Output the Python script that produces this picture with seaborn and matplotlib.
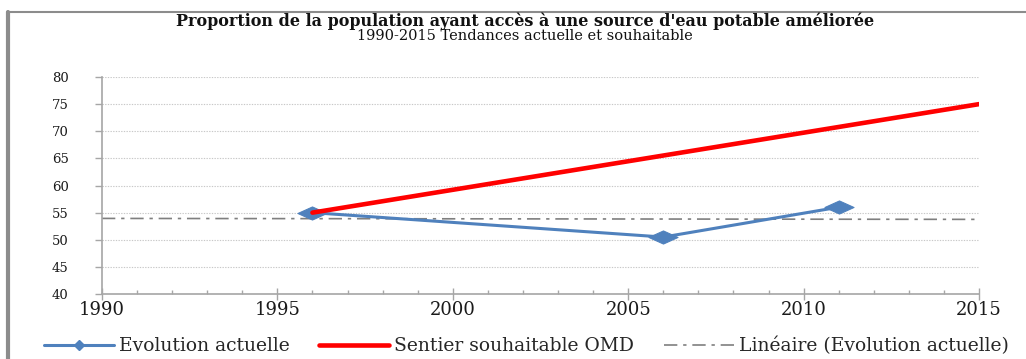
import numpy as np
import pandas as pd
import matplotlib
matplotlib.use("Agg")
import matplotlib.pyplot as plt
from matplotlib.lines import Line2D
from matplotlib.path import Path
import seaborn as sns

# Observed access to improved water source (%)
obs_years = [1996, 2006, 2011]
obs_values = [55.0, 50.5, 56.0]

# MDG target path
target_years = [1996, 2015]
target_values = [55.0, 75.0]

x_ticks = [1990, 1995, 2000, 2005, 2010, 2015]
y_ticks = [40, 45, 50, 55, 60, 65, 70, 75, 80]

title = "Proportion de la population ayant accès à une source d'eau potable améliorée"
subtitle = "1990-2015 Tendances actuelle et souhaitable"
labels = ["Evolution actuelle", "Sentier souhaitable OMD", "Linéaire (Evolution actuelle)"]

sns.set_theme(style="white")
plt.rcParams["font.family"] = ["DejaVu Serif", "Liberation Serif"]

BLUE = "#4F81BD"
RED = "#FF0000"
GREY = "#7F7F7F"
AXIS = "#A6A6A6"

obs = pd.DataFrame({"year": obs_years, "value": obs_values})
target = pd.DataFrame({"year": target_years, "value": target_values})

# Linear trend fitted on the observed series, drawn over the full period
coef = np.polyfit(obs_years, obs_values, 1)
trend_years = [x_ticks[0], x_ticks[-1]]
trend = pd.DataFrame({"year": trend_years, "value": np.polyval(coef, trend_years)})

fig = plt.figure(figsize=(10.26, 3.59), dpi=100)
ax = fig.add_axes([0.0994, 0.181, 0.8548, 0.6045])

# Flattened diamond marker
diamond = Path([(-1, 0), (0, 0.45), (1, 0), (0, -0.45), (-1, 0)],
               [Path.MOVETO, Path.LINETO, Path.LINETO, Path.LINETO, Path.CLOSEPOLY])

sns.lineplot(data=trend, x="year", y="value", ax=ax, color=GREY, lw=1.2,
             dashes=False, legend=False)
ax.lines[-1].set_dashes([8, 3.5, 2, 3.5])
sns.lineplot(data=obs, x="year", y="value", ax=ax, color=BLUE, lw=2.2,
             marker=diamond, markersize=21, markeredgecolor=BLUE, legend=False)
sns.lineplot(data=target, x="year", y="value", ax=ax, color=RED, lw=3.3,
             legend=False)

ax.set_xlim(x_ticks[0], x_ticks[-1])
ax.set_ylim(y_ticks[0], y_ticks[-1])
ax.set_xticks(x_ticks)
ax.set_yticks(y_ticks)
ax.set_xticks(range(x_ticks[0], x_ticks[-1] + 1), minor=True)
ax.set_xlabel("")
ax.set_ylabel("")

for y in y_ticks[1:]:
    ax.axhline(y, color="#C8C8C8", lw=0.8, ls=(0, (1.2, 1.2)), zorder=0)

for side in ["top", "right"]:
    ax.spines[side].set_visible(False)
for side in ["left", "bottom"]:
    ax.spines[side].set_color(AXIS)
    ax.spines[side].set_linewidth(1.2)

ax.tick_params(axis="x", which="major", direction="inout", length=8, width=1,
               color=AXIS, labelsize=13, pad=1, bottom=True)
ax.tick_params(axis="x", which="minor", direction="in", length=3, width=1,
               color=AXIS, bottom=True)
ax.tick_params(axis="y", which="major", direction="out", length=5, width=1,
               color=AXIS, labelsize=9.5, pad=19, left=True)
for lab in ax.get_xticklabels() + ax.get_yticklabels():
    lab.set_color("#1A1A1A")

fig.text(0.512, 0.940, title, ha="center", va="center", fontsize=11.5,
         fontweight="bold", color="#111111")
fig.text(0.512, 0.901, subtitle, ha="center", va="center", fontsize=10.5,
         color="#111111")

handles = [
    Line2D([], [], color=BLUE, lw=2.2, marker="D", markersize=5),
    Line2D([], [], color=RED, lw=3.3),
    Line2D([], [], color=GREY, lw=1.2, dashes=[8, 3.5, 2, 3.5]),
]
fig.legend(handles, labels, loc="center", bbox_to_anchor=(0.513, 0.036), ncol=3,
           frameon=False, fontsize=13.5, handlelength=3.75, handletextpad=0.27,
           columnspacing=1.55, borderaxespad=0, borderpad=0)

# Chart area frame
fig.add_artist(Line2D([0.0073, 1.0], [0.967, 0.967], transform=fig.transFigure,
                      color="#8C8C8C", lw=1.5))
fig.add_artist(Line2D([0.0078, 0.0078], [0.0, 0.967], transform=fig.transFigure,
                      color="#8C8C8C", lw=3))

fig.savefig("out.png", dpi=100)
